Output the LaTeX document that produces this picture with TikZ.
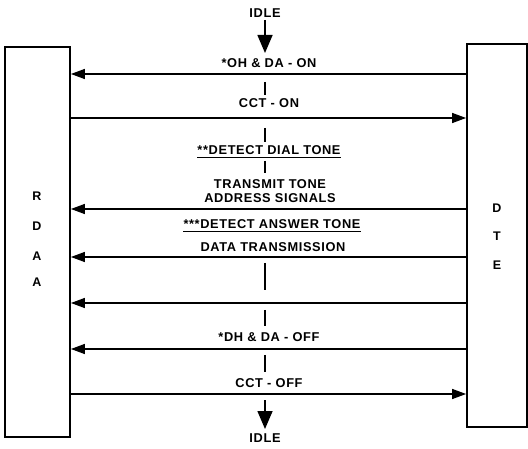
\documentclass[tikz,border=0pt]{standalone}
\usepackage{fontspec}
\setmainfont{Liberation Sans}
\usetikzlibrary{arrows.meta}
\tikzset{
  lbl/.style={font=\fontsize{12.8}{14}\selectfont\bfseries\addfontfeature{LetterSpace=5}, inner sep=0pt, anchor=center},
  boxlbl/.style={font=\fontsize{12.5}{13}\selectfont\bfseries, inner sep=0pt},
  blk/.style={draw, line width=1.8pt, inner sep=0pt},
  sig/.style={line width=1.3pt},
  tipl/.style={sig, {Triangle[length=14pt,width=10pt]}-},
  tipr/.style={sig, -{Triangle[length=14pt,width=10pt]}},
  tick/.style={line width=1.6pt},
  bigarrow/.style={line width=1.6pt, -{Triangle[length=18pt,width=15pt]}},
  uline/.style={line width=1.2pt}
}
\begin{document}
\begin{tikzpicture}[x=1pt,y=-1pt]
\useasboundingbox (0,0) rectangle (528,449);
% boxes
\node[blk, minimum width=65pt, minimum height=390pt] (rdaa) at (37.5,242) {};
\node[blk, minimum width=60pt, minimum height=383pt] (dte) at (497,235.5) {};
\node[boxlbl] (r1) at (37,196) {R};
\node[boxlbl] (r2) at (37,226) {D};
\node[boxlbl] (r3) at (37,256) {A};
\node[boxlbl] (r4) at (37,282) {A};
\node[boxlbl] (d1) at (497,208) {D};
\node[boxlbl] (d2) at (497,236) {T};
\node[boxlbl] (d3) at (497,265) {E};
% edge coordinates
\foreach \n/\y in {1/74,2/118,3/209,4/257,5/303,6/349,7/394}{
  \coordinate (L\n) at (rdaa.east |- 0,\y);
  \coordinate (R\n) at (dte.west |- 0,\y);
}
% signals
\draw[tipl] (L1) -- (R1);
\draw[tipr] (L2) -- (R2);
\draw[tipl] (L3) -- (R3);
\draw[tipl] (L4) -- (R4);
\draw[tipl] (L5) -- (R5);
\draw[tipl] (L6) -- (R6);
\draw[tipr] (L7) -- (R7);
% texts
\node[lbl] (idle1) at (265,13) {IDLE};
\node[lbl] (t1) at (269,63) {*OH \& DA - ON};
\node[lbl] (t2) at (269,103) {CCT - ON};
\node[lbl] (t3) at (269,150) {**DETECT DIAL TONE};
\node[lbl] (t4) at (270,184) {TRANSMIT TONE};
\node[lbl] (t5) at (270,198) {ADDRESS SIGNALS};
\node[lbl] (t6) at (272,224) {***DETECT ANSWER TONE};
\node[lbl] (t7) at (273,247) {DATA TRANSMISSION};
\node[lbl] (t8) at (269,337) {*DH \& DA - OFF};
\node[lbl] (t9) at (269,383) {CCT - OFF};
\node[lbl] (idle2) at (265,438) {IDLE};
\draw[uline] ([yshift=-3pt]t3.south west) -- ([yshift=-3pt]t3.south east);
\draw[uline] ([yshift=-3pt]t6.south west) -- ([yshift=-3pt]t6.south east);
% arrows and ticks
\coordinate (a1s) at (265,20);
\coordinate (a1e) at (265,53);
\draw[bigarrow] (a1s) -- (a1e);
\coordinate (a2s) at (265,400);
\coordinate (a2e) at (265,429);
\draw[bigarrow] (a2s) -- (a2e);
\foreach \a/\b [count=\i] in {82/95,128/142,161/173,263/290,310/326,355/372}{
  \coordinate (k\i a) at (265,\a);
  \coordinate (k\i b) at (265,\b);
  \draw[tick] (k\i a) -- (k\i b);
}
\end{tikzpicture}
\end{document}
